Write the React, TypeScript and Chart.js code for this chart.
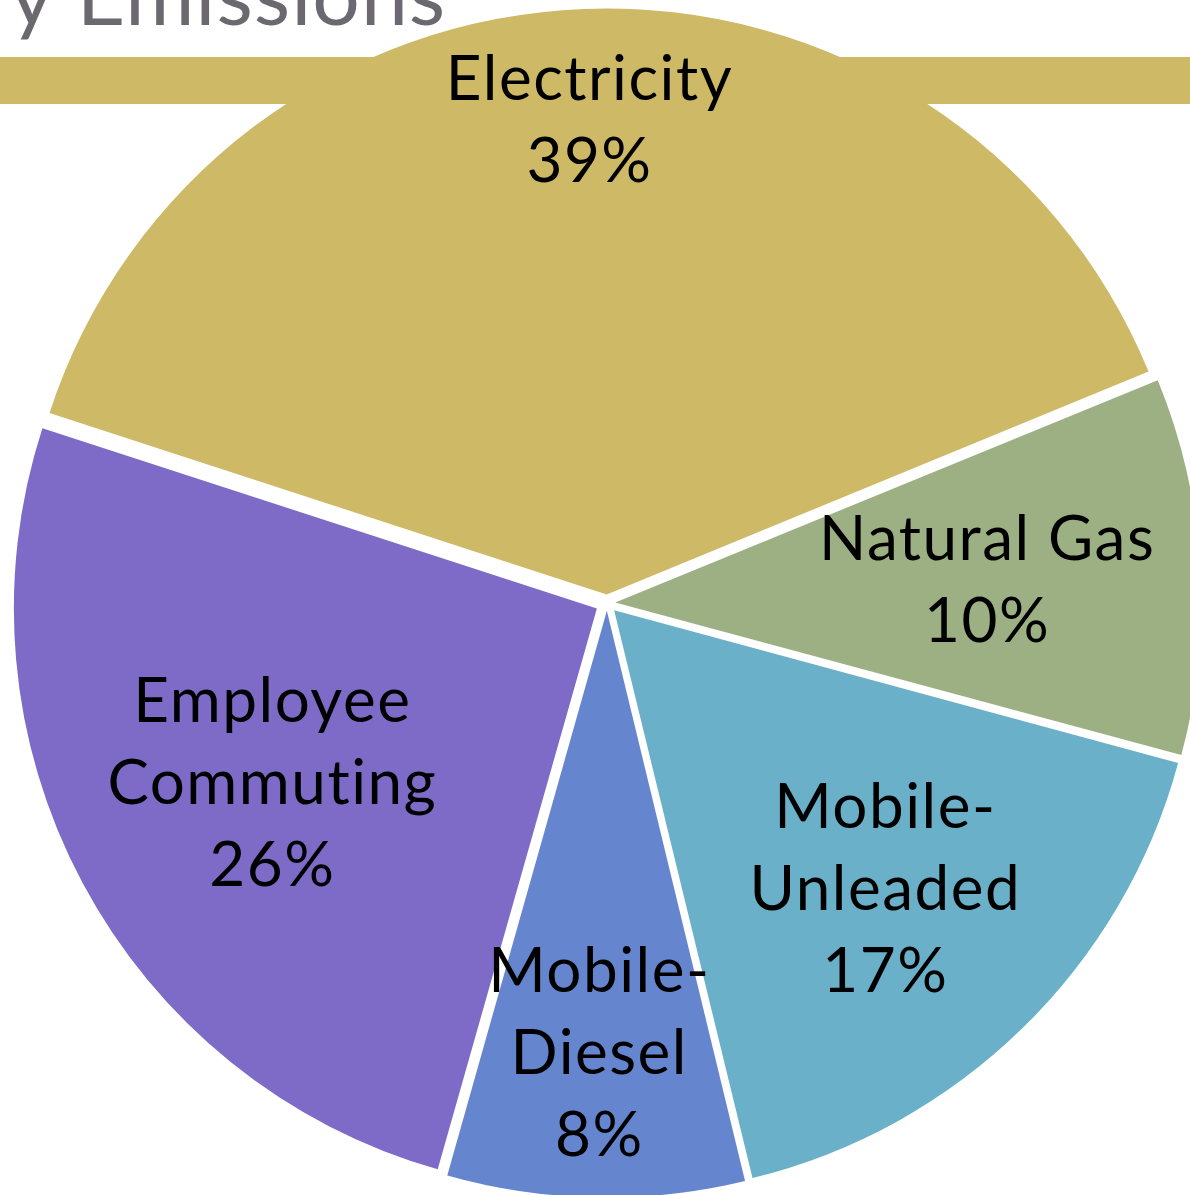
import React, { useEffect, useRef } from "react";
import { Chart, registerables } from "chart.js";

Chart.register(...registerables);

// ---- data ----
const categories = ["Electricity", "Natural Gas", "Mobile-Unleaded", "Mobile-Diesel", "Employee Commuting"];
const labelLines = [["Electricity"], ["Natural Gas"], ["Mobile-", "Unleaded"], ["Mobile-", "Diesel"], ["Employee", "Commuting"]];
const shares = [38.8, 10.4, 17.0, 8.2, 25.6];
const percentLabels = ["39%", "10%", "17%", "8%", "26%"];
const titleText = "y Emissions";

// ---- style / layout ----
const sliceColors = ["#CEB966", "#9CB084", "#6AB0C9", "#6585CF", "#7E6BC8"];
const labelRadius = [0.831, 0.652, 0.682, 0.77, 0.652];
const PAGE_W = 1190;
const PAGE_H = 1195;
const EXPLODE = 11.5; // px each slice is pulled out
const RADIUS = 583;
const CX = 607;
const CY = 603;
const CANVAS = 1260;
const OFF_X = CX - CANVAS / 2;
const OFF_Y = CY - CANVAS / 2;
const FONT = "Lato, 'DejaVu Sans', sans-serif";
const LABEL_SIZE = 62;
const LINE_H = 82;

// Chart.js translates an arc by offset/4 * (1 + (1 - sin(min(PI, circumference))))
const total = shares.reduce((a, b) => a + b, 0);
const sliceOffsets = shares.map((v) => {
  const c = (v / total) * Math.PI * 2;
  const fix = 1 - Math.sin(Math.min(Math.PI, c));
  return (EXPLODE * 4) / (1 + fix);
});
const maxOffset = Math.max(...sliceOffsets);
const AREA = 2 * RADIUS + maxOffset;
const PAD = (CANVAS - AREA) / 2;

const overlayPlugin = {
  id: "overlay",
  beforeDatasetsDraw(chart: any) {
    const ctx = chart.ctx as CanvasRenderingContext2D;
    // gold banner behind the pie
    ctx.save();
    ctx.fillStyle = "#CEB966";
    ctx.fillRect(0, 57 - OFF_Y, chart.width, 47);
    // title (partially cut off at the top)
    ctx.fillStyle = "#6B6870";
    ctx.font = `84px ${FONT}`;
    (ctx as any).letterSpacing = "1px";
    ctx.textAlign = "left";
    ctx.textBaseline = "alphabetic";
    ctx.fillText(titleText, 10 - OFF_X, 25 - OFF_Y);
    ctx.restore();
  },
  afterDatasetsDraw(chart: any) {
    const ctx = chart.ctx as CanvasRenderingContext2D;
    const meta = chart.getDatasetMeta(0);
    const arcs = meta.data as any[];
    if (!arcs.length) return;
    const { x: cx, y: cy, outerRadius } = arcs[0].getProps(["x", "y", "outerRadius"], true);

    ctx.save();
    ctx.fillStyle = "#000000";
    ctx.font = `${LABEL_SIZE}px ${FONT}`;
    (ctx as any).letterSpacing = "1.5px";
    ctx.textAlign = "center";
    ctx.textBaseline = "alphabetic";
    const capH = LABEL_SIZE * 0.72;
    arcs.forEach((arc, i) => {
      const p = arc.getProps(["startAngle", "endAngle"], true);
      const mid = (p.startAngle + p.endAngle) / 2;
      const r = labelRadius[i] * outerRadius;
      const lx = cx + Math.cos(mid) * r;
      const ly = cy + Math.sin(mid) * r;
      const lines = [...labelLines[i], percentLabels[i]];
      const n = lines.length;
      lines.forEach((t, k) => {
        const by = ly - ((n - 1) * LINE_H) / 2 + k * LINE_H + capH / 2;
        ctx.fillText(t, lx + 0.75, by);
      });
    });
    ctx.restore();
  },
};

export default function App() {
  const ref = useRef<HTMLCanvasElement | null>(null);

  useEffect(() => {
    if (!ref.current) return;
    const chart = new Chart(ref.current, {
      type: "pie",
      data: {
        labels: categories,
        datasets: [
          {
            data: shares,
            backgroundColor: sliceColors,
            borderWidth: 0,
            hoverBorderWidth: 0,
            offset: sliceOffsets,
            hoverOffset: 0,
          },
        ],
      },
      options: {
        responsive: false,
        maintainAspectRatio: false,
        animation: false,
        devicePixelRatio: 1,
        rotation: -72.0,
        layout: { padding: PAD },
        events: [],
        plugins: {
          legend: { display: false },
          tooltip: { enabled: false },
          title: { display: false },
        },
      },
      plugins: [overlayPlugin],
    });
    return () => chart.destroy();
  }, []);

  return (
    <div
      style={{
        position: "fixed",
        left: 0,
        top: 0,
        width: PAGE_W,
        height: PAGE_H,
        overflow: "hidden",
        background: "#FFFFFF",
      }}
    >
      <canvas
        ref={ref}
        width={CANVAS}
        height={CANVAS}
        style={{ position: "absolute", left: OFF_X, top: OFF_Y, width: CANVAS, height: CANVAS }}
      />
    </div>
  );
}
